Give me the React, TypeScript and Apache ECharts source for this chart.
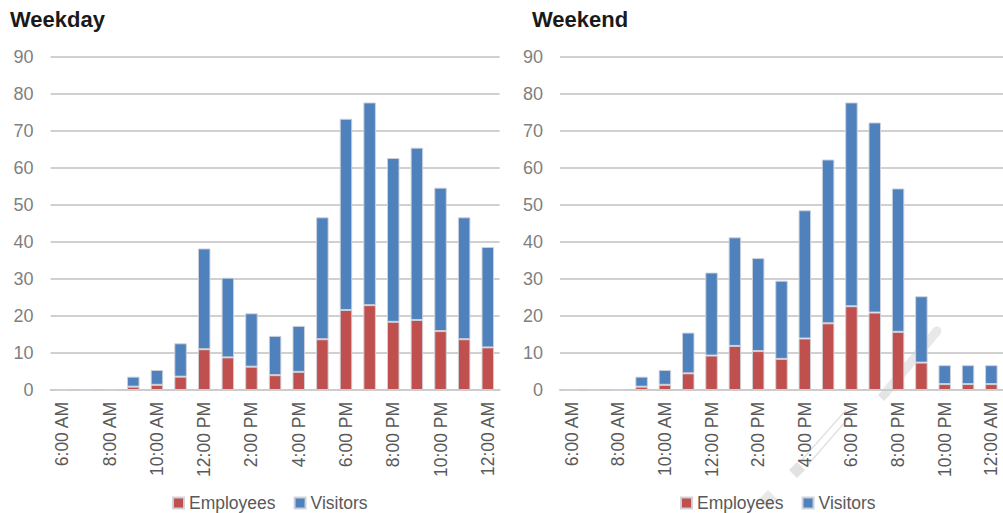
import React, { useEffect, useRef } from "react";
import * as echarts from "echarts";

// Hourly slots, 6:00 AM through 12:00 AM
const hours: string[] = [
  "6:00 AM", "7:00 AM", "8:00 AM", "9:00 AM", "10:00 AM", "11:00 AM",
  "12:00 PM", "1:00 PM", "2:00 PM", "3:00 PM", "4:00 PM", "5:00 PM",
  "6:00 PM", "7:00 PM", "8:00 PM", "9:00 PM", "10:00 PM", "11:00 PM",
  "12:00 AM",
];

const weekdayEmployees: number[] = [
  0, 0, 0, 0.9, 1.4, 3.6, 11.0, 8.8, 6.3, 4.0, 4.9, 13.7, 21.6, 22.9, 18.4, 18.9, 15.9, 13.7, 11.5,
];
const weekdayVisitors: number[] = [
  0, 0, 0, 2.7, 4.0, 9.0, 27.2, 21.5, 14.4, 10.6, 12.4, 32.9, 51.6, 54.7, 44.2, 46.5, 38.7, 32.9, 27.1,
];

const weekendEmployees: number[] = [
  0, 0, 0, 0.9, 1.4, 4.5, 9.3, 11.9, 10.5, 8.4, 13.9, 18.0, 22.6, 20.9, 15.7, 7.4, 1.6, 1.6, 1.6,
];
const weekendVisitors: number[] = [
  0, 0, 0, 2.7, 4.0, 11.0, 22.4, 29.3, 25.1, 21.1, 34.6, 44.2, 55.0, 51.3, 38.7, 17.9, 5.1, 5.1, 5.1,
];

const panelTitles: string[] = ["Weekday", "Weekend"];
const seriesNames: string[] = ["Employees", "Visitors"];

const RED = "#c0504d";
const BLUE = "#4f81bd";
const FONT = "'Liberation Sans', Arial, sans-serif";

export default function App() {
  const ref = useRef<HTMLDivElement>(null);

  useEffect(() => {
    if (!ref.current) return;
    const chart = echarts.init(ref.current, undefined, { renderer: "svg" });

    const grids = [
      { left: 50.6, top: 56.5, width: 449, height: 333.5 },
      { left: 560, top: 56.5, width: 448, height: 333.5 },
    ];

    const xAxes = grids.map((_, i) => ({
      type: "category" as const,
      gridIndex: i,
      data: hours,
      axisTick: { show: false },
      axisLine: { show: true, lineStyle: { color: "#cccccc", width: 2 } },
      axisLabel: {
        interval: 1,
        rotate: 90,
        margin: 12,
        color: "#595959",
        fontSize: 17.5,
        fontFamily: FONT,
      },
    }));

    const yAxes = grids.map((_, i) => ({
      type: "value" as const,
      gridIndex: i,
      min: 0,
      max: 90,
      interval: 10,
      axisLine: { show: false },
      axisTick: { show: false },
      splitLine: { lineStyle: { color: "#d0d0d0", width: 2 } },
      axisLabel: {
        margin: 17,
        color: "#7f7f7f",
        fontSize: 18,
        fontFamily: FONT,
      },
    }));

    const barStyle = (color: string) => ({
      color,
      borderColor: "rgba(205,210,218,0.95)",
      borderWidth: 1,
    });

    const makeSeries = (
      name: string,
      data: number[],
      color: string,
      idx: number,
      stack: string
    ) => ({
      name,
      type: "bar" as const,
      stack,
      xAxisIndex: idx,
      yAxisIndex: idx,
      data,
      barWidth: 12.5,
      itemStyle: barStyle(color),
    });

    const legendBase = {
      top: 494,
      padding: 0,
      itemWidth: 11,
      itemHeight: 11,
      itemGap: 18,
      icon: "rect",
      data: seriesNames,
      textStyle: { color: "#595959", fontSize: 17.5, fontFamily: FONT },
    };

    // Faint pencil cursor shape resting over the weekend panel
    const pencil = [
      {
        type: "line",
        shape: { x1: 937, y1: 331, x2: 887, y2: 391 },
        style: { stroke: "#e8e8e8", lineWidth: 9, lineCap: "round" },
        z: 0,
      },
      {
        type: "polygon",
        shape: { points: [[884, 389], [890, 395], [884, 401], [878, 395]] },
        style: { fill: "#e4e4e4" },
        z: 0,
      },
      {
        type: "line",
        shape: { x1: 846, y1: 410, x2: 800, y2: 462 },
        style: { stroke: "#e2e2e2", lineWidth: 1.5 },
        z: 0,
      },
      {
        type: "line",
        shape: { x1: 852, y1: 414, x2: 806, y2: 467 },
        style: { stroke: "#e2e2e2", lineWidth: 1.5 },
        z: 0,
      },
      {
        type: "polygon",
        shape: { points: [[797, 462], [805, 470], [797, 478], [789, 470]] },
        style: { fill: "#e2e2e2" },
        z: 0,
      },
      {
        type: "polygon",
        shape: { points: [[768, 490], [777, 499], [768, 508], [759, 499]] },
        style: { fill: "#e8e8e8" },
        z: 0,
      },
    ];

    const titleStyle = {
      color: "#1a1a1a",
      fontSize: 22,
      fontWeight: "bold",
      fontFamily: FONT,
    };

    chart.setOption({
      animation: false,
      backgroundColor: "#ffffff",
      title: [
        { text: panelTitles[0], left: 10, top: 8, padding: 0, textStyle: titleStyle },
        { text: panelTitles[1], left: 532, top: 8, padding: 0, textStyle: titleStyle },
      ],
      legend: [
        { ...legendBase, left: 172 },
        { ...legendBase, left: 680 },
      ],
      grid: grids,
      xAxis: xAxes,
      yAxis: yAxes,
      graphic: pencil,
      series: [
        makeSeries(seriesNames[0], weekdayEmployees, RED, 0, "weekday"),
        makeSeries(seriesNames[1], weekdayVisitors, BLUE, 0, "weekday"),
        makeSeries(seriesNames[0], weekendEmployees, RED, 1, "weekend"),
        makeSeries(seriesNames[1], weekendVisitors, BLUE, 1, "weekend"),
      ],
    });

    return () => chart.dispose();
  }, []);

  return (
    <div
      ref={ref}
      style={{ position: "absolute", left: 0, top: 0, width: 1003, height: 513 }}
    />
  );
}
